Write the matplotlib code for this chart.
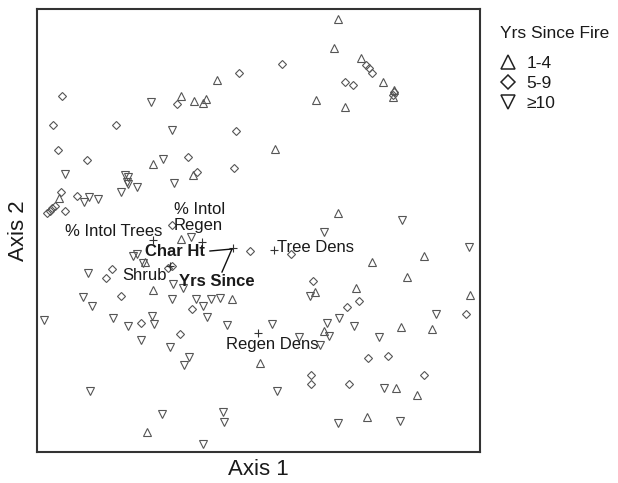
import numpy as np
import matplotlib
matplotlib.use("Agg")
import matplotlib.pyplot as plt
from matplotlib.lines import Line2D

plt.rcParams['font.family'] = ['Liberation Sans', 'DejaVu Sans']

# NMS site scores, grouped by years since fire
yrs_1_4 = [(180, 372), (144, 356), (157, 351), (169, 353), (166, 349), (116, 288),
           (156, 277), (22, 254), (301, 433), (297, 404), (324, 394), (346, 370),
           (357, 362), (356, 355), (279, 352), (308, 345), (238, 303), (301, 239),
           (144, 213), (108, 190), (116, 162), (195, 153), (223, 89), (110, 20),
           (359, 64), (380, 57), (330, 35), (387, 196), (335, 190), (370, 175),
           (278, 160), (319, 164), (433, 157), (364, 125), (395, 123), (287, 121)]

yrs_5_9 = [(202, 379), (25, 356), (140, 348), (16, 327), (79, 327), (199, 321),
           (21, 302), (50, 292), (151, 295), (197, 284), (160, 280), (24, 260),
           (40, 256), (10, 239), (13, 241), (15, 244), (18, 246), (28, 241),
           (245, 388), (329, 387), (332, 384), (335, 379), (308, 370), (316, 367),
           (357, 360), (356, 357), (135, 227), (213, 201), (254, 198), (75, 183),
           (69, 174), (131, 184), (135, 186), (84, 156), (155, 143), (104, 129),
           (143, 118), (276, 171), (322, 151), (310, 145), (429, 138), (331, 94),
           (351, 96), (274, 77), (274, 68), (387, 77), (312, 68)]

yrs_10 = [(114, 350), (135, 322), (126, 293), (28, 278), (88, 277), (91, 275),
          (90, 270), (91, 268), (137, 269), (100, 265), (84, 260), (47, 250),
          (52, 255), (61, 253), (154, 215), (96, 196), (100, 198), (106, 189),
          (51, 179), (136, 168), (146, 164), (46, 155), (55, 146), (135, 153),
          (159, 153), (174, 153), (183, 154), (166, 146), (170, 135), (7, 132),
          (76, 134), (115, 136), (117, 128), (91, 126), (190, 127), (104, 112),
          (133, 105), (152, 95), (147, 87), (53, 61), (125, 38), (186, 40),
          (187, 30), (166, 8), (365, 232), (287, 220), (432, 205), (273, 156),
          (399, 138), (302, 134), (235, 128), (290, 129), (317, 126), (292, 116),
          (262, 115), (283, 107), (342, 115), (240, 61), (347, 64), (301, 29),
          (363, 31)]

# overlay variables (+) and joint-plot vectors
overlay_pts = [(116, 212), (165, 210), (237, 202), (221, 119), (133, 186), (196, 204)]
vec_origin = (195, 203)
vec_tips = {'Char Ht': (173, 201), 'Yrs Since': (185, 180)}

legend_labels = ['1-4', '5-9', '\u226510']

fig = plt.figure(figsize=(6.18, 4.83), dpi=100)
ax = fig.add_axes([37 / 618, 1 - 452 / 483, 443 / 618, 443 / 483])

mk_col = '#555555'
groups = [(yrs_1_4, '^', 5.5), (yrs_5_9, 'D', 3.8), (yrs_10, 'v', 5.5)]
for pts, m, ms in groups:
    a = np.array(pts)
    ax.plot(a[:, 0], a[:, 1], ls='none', marker=m, ms=ms, mfc='none',
            mec=mk_col, mew=0.8)

op = np.array(overlay_pts)
ax.plot(op[:, 0], op[:, 1], ls='none', marker='+', ms=6, mec='#333333', mew=0.8)

for name, tip in vec_tips.items():
    ax.plot([vec_origin[0], tip[0]], [vec_origin[1], tip[1]], color='#111111', lw=1)

txt = dict(fontsize=12, color='#1a1a1a', ha='left', va='center')
ax.text(28, 220, '% Intol Trees', **txt)
ax.text(137, 234.5, '% Intol\nRegen', linespacing=1.1, **txt)
ax.text(108, 200, 'Char Ht', fontweight='bold', **txt)
ax.text(85, 176, 'Shrub', **txt)
ax.text(142, 171, 'Yrs Since', fontweight='bold', **txt)
ax.text(240, 204, 'Tree Dens', **txt)
ax.text(189, 107, 'Regen Dens', **txt)

ax.set_xlim(0, 443)
ax.set_ylim(0, 443)
ax.set_xticks([])
ax.set_yticks([])
for s in ax.spines.values():
    s.set_linewidth(1.5)
    s.set_color('#333333')
ax.set_xlabel('Axis 1', fontsize=16, color='#1a1a1a', labelpad=5)
ax.set_ylabel('Axis 2', fontsize=16, color='#1a1a1a', labelpad=6)

# legend: title set apart from the entries, as in the original
fig.text(500 / 618, 1 - 33 / 483, 'Yrs Since Fire', fontsize=12.5,
         color='#1a1a1a', ha='left', va='center')
handles = [Line2D([], [], ls='none', marker='^', ms=10, mfc='none', mec='#222222', mew=1.1),
           Line2D([], [], ls='none', marker='D', ms=7.5, mfc='none', mec='#222222', mew=1.1),
           Line2D([], [], ls='none', marker='v', ms=10, mfc='none', mec='#222222', mew=1.1)]
leg = ax.legend(handles, legend_labels, loc='upper left',
                bbox_to_anchor=(499 / 618, 1 - 56 / 483),
                bbox_transform=fig.transFigure, frameon=False, fontsize=12.5,
                handlelength=1.0, handletextpad=0.6, labelspacing=0.28,
                borderpad=0, borderaxespad=0)
for t in leg.get_texts():
    t.set_color('#1a1a1a')

fig.savefig('out.png', dpi=100)
